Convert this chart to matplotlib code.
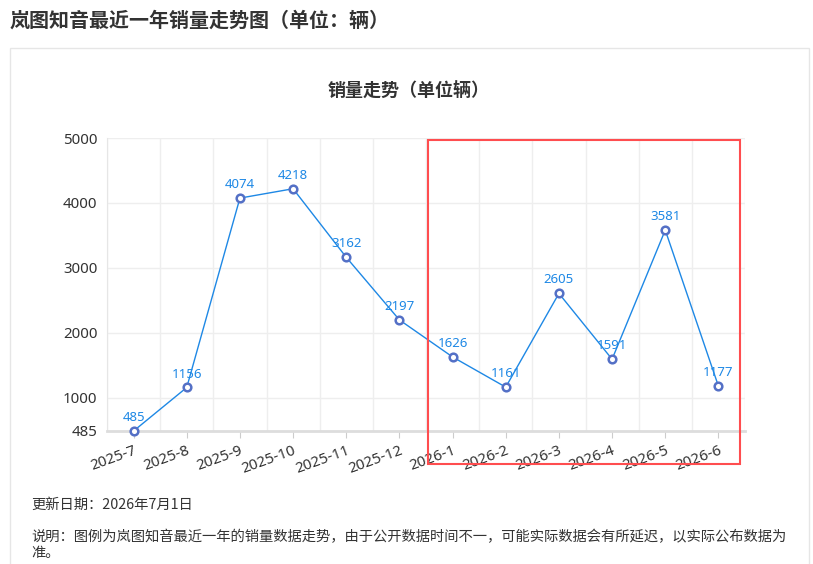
import matplotlib.pyplot as plt
from matplotlib.patches import Rectangle

plt.rcParams['font.family'] = ['Noto Sans', 'Noto Sans CJK SC', 'DejaVu Sans']
CJK = ['Noto Sans CJK SC', 'DejaVu Sans']

months = ['2025-7', '2025-8', '2025-9', '2025-10', '2025-11', '2025-12',
          '2026-1', '2026-2', '2026-3', '2026-4', '2026-5', '2026-6']
sales = [485, 1156, 4074, 4218, 3162, 2197, 1626, 1161, 2605, 1591, 3581, 1177]
y_ticks = [485, 1000, 2000, 3000, 4000, 5000]

W, H = 813, 564
fig = plt.figure(figsize=(W / 100, H / 100), dpi=100)


def fx(px):
    return px / W


def fy(py):
    return 1 - py / H


# card border
fig.patches.append(Rectangle((fx(10), fy(600)), fx(799), (600 - 48) / H,
                             transform=fig.transFigure, fill=False,
                             edgecolor='#e6e6e6', linewidth=1))

fig.text(fx(10), fy(20), '岚图知音最近一年销量走势图（单位：辆）', fontsize=14.4,
         fontweight='bold', color='#333333', va='center', ha='left', family=CJK)
fig.text(fx(409), fy(90), '销量走势（单位辆）', fontsize=13,
         fontweight='bold', color='#333333', va='center', ha='center', family=CJK)

ax = fig.add_axes([fx(107), fy(431), fx(745 - 107), (431 - 138) / H])
x = list(range(len(months)))
ax.plot(x, sales, color='#1e88e5', linewidth=1, marker='o', markersize=5.5,
        markerfacecolor='white', markeredgecolor='#5470c6', markeredgewidth=1.8,
        zorder=3, clip_on=False)
for xi, v in zip(x, sales):
    ax.annotate(str(v), (xi, v), xytext=(0, 5), textcoords='offset points',
                ha='center', va='bottom', fontsize=9.5, color='#1e88e5')

ax.set_xlim(-0.5, len(months) - 0.5)
ax.set_ylim(y_ticks[0], y_ticks[-1])
ax.set_yticks(y_ticks)
ax.set_xticks(x)
ax.set_xticklabels(months, rotation=20, ha='right', rotation_mode='anchor')
ax.set_xticks([i - 0.5 for i in range(len(months) + 1)], minor=True)
ax.tick_params(axis='x', which='major', length=5, color='#cccccc',
               labelsize=10.8, labelcolor='#333333', pad=4)
ax.tick_params(axis='x', which='minor', length=0)
ax.tick_params(axis='y', length=0, labelsize=10.8, labelcolor='#333333', pad=7)
ax.grid(True, axis='y', color='#eeeeee', linewidth=1)
ax.grid(True, axis='x', which='minor', color='#eeeeee', linewidth=1)
ax.set_axisbelow(True)
for s in ['top', 'right']:
    ax.spines[s].set_visible(False)
ax.spines['left'].set_color('#e6e6e6')
ax.spines['bottom'].set_color('#dddddd')
ax.spines['bottom'].set_linewidth(2)

# highlight box for 2026
fig.patches.append(Rectangle((fx(428), fy(464)), fx(740 - 428), (464 - 140) / H,
                             transform=fig.transFigure, fill=False,
                             edgecolor='#ff4d4f', linewidth=1.5))

fig.text(fx(31), fy(505), '更新日期：2026年7月1日', fontsize=10.3,
         color='#333333', va='center', ha='left', family=CJK)
fig.text(fx(31), fy(537),
         '说明：图例为岚图知音最近一年的销量数据走势，由于公开数据时间不一，可能实际数据会有所延迟，以实际公布数据为',
         fontsize=10.3, color='#333333', va='center', ha='left', family=CJK)
fig.text(fx(31), fy(553), '准。', fontsize=10.3, color='#333333',
         va='center', ha='left', family=CJK)

fig.savefig('out.png', dpi=100, facecolor='white')
